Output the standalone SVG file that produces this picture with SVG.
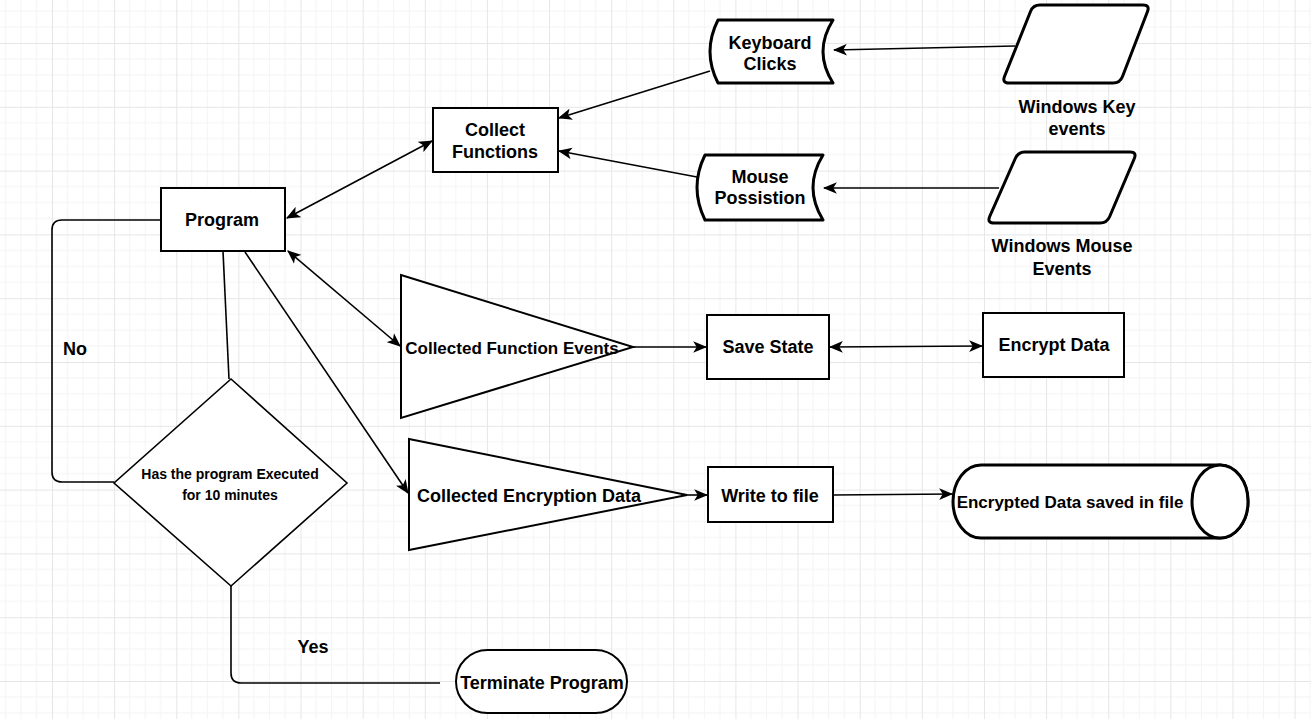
<svg xmlns="http://www.w3.org/2000/svg" width="1313" height="721" viewBox="0 0 1313 721">
<style>
.t{font-family:"Liberation Sans",Arial,sans-serif;font-weight:bold;font-size:18px;fill:#000;text-anchor:middle;dominant-baseline:central}
.s{font-size:14px}
.n{fill:#fff;stroke:#000;stroke-width:2}
.k{fill:#fff;stroke:#000;stroke-width:3;stroke-linejoin:round}
.c{fill:none;stroke:#000;stroke-width:1.6}
</style>
<defs>
<pattern id="g" patternUnits="userSpaceOnUse" x="52" y="43" width="62.13" height="63.8">
<path d="M15.53,0V63.8M31.07,0V63.8M46.6,0V63.8M0,15.95H62.13M0,31.9H62.13M0,47.85H62.13" stroke="#f4f4f4" stroke-width="1" fill="none"/>
<path d="M0.5,0V63.8M0,0.5H62.13" stroke="#e6e6e6" stroke-width="1" fill="none"/>
</pattern>
<marker id="a" markerUnits="userSpaceOnUse" viewBox="0 0 12 10" refX="11" refY="5" markerWidth="14" markerHeight="12" orient="auto-start-reverse">
<path d="M0,0L12,5L0,10L3,5Z" fill="#000"/>
</marker>
</defs>
<rect width="1313" height="721" fill="#fff"/>
<rect width="1311" height="719" fill="url(#g)"/>

<g id="connectors">
<line class="c" x1="1015" y1="46" x2="834" y2="50" marker-end="url(#a)"/>
<line class="c" x1="710" y1="71" x2="559" y2="118" marker-end="url(#a)"/>
<line class="c" x1="697" y1="177" x2="559" y2="151" marker-end="url(#a)"/>
<line class="c" x1="999" y1="188" x2="824" y2="188" marker-end="url(#a)"/>
<line class="c" x1="287" y1="218" x2="432" y2="141" marker-start="url(#a)" marker-end="url(#a)"/>
<line class="c" x1="288" y1="251" x2="400" y2="346" marker-start="url(#a)" marker-end="url(#a)"/>
<line class="c" x1="245" y1="252" x2="408" y2="493" marker-end="url(#a)"/>
<line class="c" x1="633" y1="347" x2="706" y2="347" marker-end="url(#a)"/>
<line class="c" x1="830" y1="347" x2="982" y2="346" marker-start="url(#a)" marker-end="url(#a)"/>
<line class="c" x1="687" y1="495" x2="707" y2="495" marker-end="url(#a)"/>
<line class="c" x1="833" y1="495" x2="952" y2="494" marker-end="url(#a)"/>
<line class="c" x1="223" y1="251" x2="229" y2="379"/>
<path class="c" d="M114,482H62Q52,482 52,472V230Q52,220 62,220H161"/>
<path class="c" d="M231,586V673Q231,683 241,683H440"/>
<text class="t" x="75" y="349">No</text>
<text class="t" x="313" y="647">Yes</text>
</g>

<g id="program"><rect class="n" x="161" y="188" width="124" height="63"/><text class="t" x="222" y="220">Program</text></g>
<g id="collect-functions"><rect class="n" x="433" y="108" width="125" height="64"/><text class="t" x="495" y="130">Collect</text><text class="t" x="495" y="152">Functions</text></g>
<g id="keyboard-clicks"><path class="k" d="M718,20L833,20Q813,51.5 833,83L718,83Q702,51.5 718,20Z"/><text class="t" x="770" y="43">Keyboard</text><text class="t" x="770" y="64">Clicks</text></g>
<g id="mouse-possistion"><path class="k" d="M705,155L823,155Q803,187.5 823,220L705,220Q689,187.5 705,155Z"/><text class="t" x="760" y="177">Mouse</text><text class="t" x="760" y="198">Possistion</text></g>
<g id="windows-key-events"><path class="k" d="M1040,5L1143,5Q1150,5 1147.5,11.5L1122.5,76.5Q1120,83 1113,83L1009,83Q1002,83 1004.5,76.5L1030.5,11.5Q1033,5 1040,5Z"/><text class="t" x="1077" y="107">Windows Key</text><text class="t" x="1077" y="129">events</text></g>
<g id="windows-mouse-events"><path class="k" d="M1025,152L1130,152Q1137,152 1134.3,158.5L1109.7,216.5Q1107,223 1100,223L994,223Q987,223 989.7,216.5L1015.3,158.5Q1018,152 1025,152Z"/><text class="t" x="1062" y="246">Windows Mouse</text><text class="t" x="1062" y="269">Events</text></g>
<g id="collected-function-events"><path class="n" d="M401,275L633,347L401,418Z"/><text class="t" x="512" y="348" style="font-size:17px">Collected Function Events</text></g>
<g id="save-state"><rect class="n" x="707" y="315" width="122" height="64"/><text class="t" x="768" y="347">Save State</text></g>
<g id="encrypt-data"><rect class="n" x="983" y="313" width="141" height="64"/><text class="t" x="1054" y="345">Encrypt Data</text></g>
<g id="collected-encryption-data"><path class="n" d="M409,439L687,495L409,550Z"/><text class="t" x="529" y="496">Collected Encryption Data</text></g>
<g id="write-to-file"><rect class="n" x="708" y="467" width="125" height="55"/><text class="t" x="770" y="496">Write to file</text></g>
<g id="encrypted-data-saved"><path class="k" d="M981,465L1220,465A28,36.5 0 0 1 1220,538L981,538A28,36.5 0 0 1 981,465Z"/><ellipse class="k" cx="1220" cy="501.5" rx="28" ry="36.5"/><text class="t" x="1070" y="502" style="font-size:17px">Encrypted Data saved in file</text></g>
<g id="decision"><path class="n" style="stroke-width:1.6" d="M231,379L347,483L231,586L114,483Z"/><text class="t s" x="230" y="474">Has the program Executed</text><text class="t s" x="230" y="495">for 10 minutes</text></g>
<g id="terminate-program"><rect class="n" x="456" y="650" width="171" height="63" rx="31.5"/><text class="t" x="542" y="683">Terminate Program</text></g>
</svg>
